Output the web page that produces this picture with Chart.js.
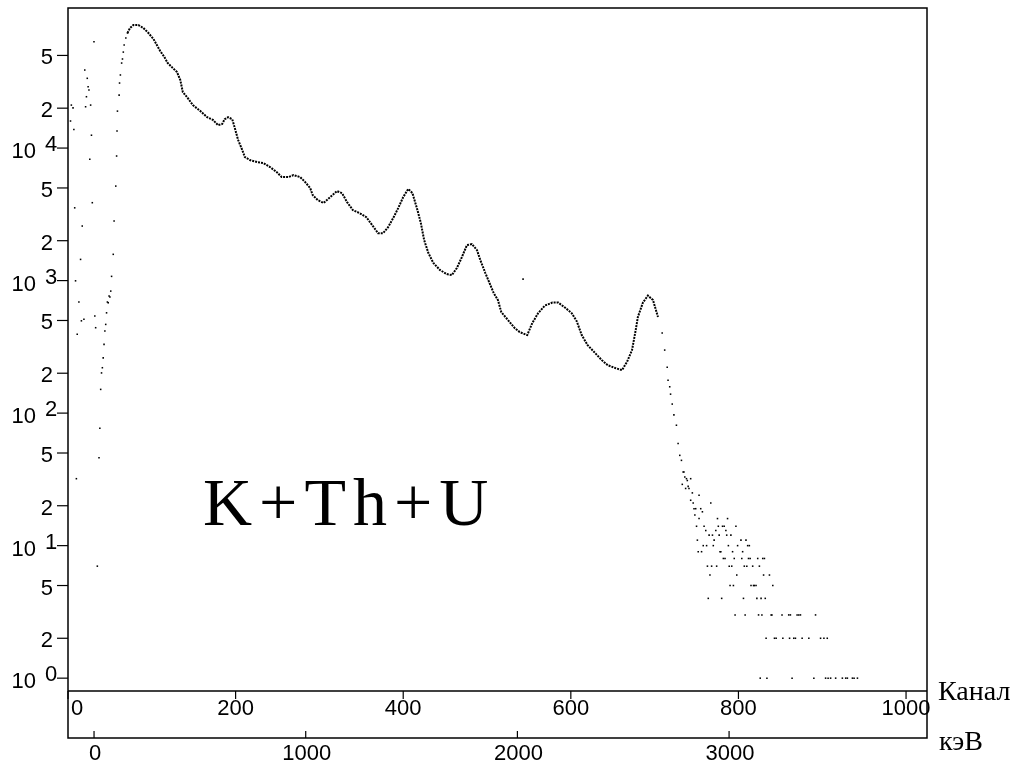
<!DOCTYPE html>
<html>
<head>
<meta charset="utf-8">
<script src="https://cdn.jsdelivr.net/npm/chart.js@4"></script>
<style>
  body { margin: 0; background: #fff; }
  #wrap { width: 1023px; height: 762px; }
</style>
</head>
<body>
<div id="wrap"><canvas id="spectrum" width="1023" height="762"></canvas></div>
<script>
// low channels: noise + rising edge (dots)
const lowCh  = [3, 4, 6, 7, 8, 9, 10, 11, 13, 15, 16, 17, 19, 20, 21, 22, 23, 24, 25, 26, 27, 28, 29, 31, 32, 33,
                35, 37, 38, 39, 40, 41, 42, 43, 44, 45, 46, 47, 48, 49, 50, 51, 52, 54, 55, 57, 58, 58.5, 59, 61, 61.5, 62.5, 64, 65, 66, 67, 69, 71];
const lowCnt = [16000, 21100, 20100, 13800, 3540, 996, 32, 393, 689, 1445, 497, 2580, 510, 38800, 20500, 24400, 33600, 29000, 27400, 8220, 21100, 12500, 3870, 63400, 540, 441,
                7, 46, 77, 151, 201, 220, 261, 330, 416, 467, 571, 689, 680, 764, 753, 833, 1076, 1578, 2813, 5165, 8710, 13430, 19000, 25100, 30950, 35600, 43800, 47000, 53000, 59900, 67600, 73800];

// main spectrum curve
const curveCh  = [71, 74, 78, 84, 90, 96, 102, 106, 110, 115, 119, 125, 130, 134, 137, 143, 149, 158, 166, 173, 179, 184, 187, 191, 196, 199,
                  203, 208, 211, 217, 226, 233, 241, 249, 255, 263, 269, 277, 283, 289, 292, 298, 305, 313, 321, 327, 333, 340, 348, 356, 363, 370, 376,
                  382, 388, 394, 400, 406, 411, 417, 421, 425, 430, 436, 444, 452, 458, 464, 470, 476, 482, 488, 492, 498, 504, 508, 513, 517, 525, 533,
                  539, 548, 554, 561, 569, 578, 585, 593, 601, 607, 613, 620, 629, 637, 644, 653, 661, 667, 673, 677, 680, 686, 692, 698, 704];
const curveCnt = [73800, 80500, 84800, 84800, 80500, 73800, 66500, 59900, 54000, 48600, 43800, 40200, 37500, 32600, 26500, 23800, 21100, 19000, 17100, 16300, 14900, 15200, 16500, 17100, 16500, 14200,
                  11500, 9660, 8560, 8120, 7840, 7710, 7190, 6590, 6040, 6040, 6250, 6040, 5540, 4990, 4420, 4050, 3850, 4270, 4735, 4575, 3910, 3400, 3230, 3010, 2620, 2280, 2280,
                  2530, 2960, 3520, 4270, 4910, 4575, 3400, 2720, 2020, 1615, 1357, 1200, 1120, 1100, 1243, 1503, 1852, 1885, 1697, 1428, 1140, 925, 805, 713, 578, 504, 438,
                  409, 388, 478, 568, 648, 682, 682, 626, 568, 494, 388, 326, 284, 251, 230, 219, 211, 243, 299, 409, 531, 682, 771, 713, 531];

// high channels: falling edge and sparse counts (dots)
const tailCh  = [543, 709, 712, 715, 716, 718, 719, 721, 723, 726, 728, 730, 732, 733, 734, 735, 736, 737, 738, 739, 740, 741, 743,
                 745, 753, 743, 746, 767, 747, 749, 755, 757, 748, 753, 775, 787,
                 750, 759, 776, 781, 783, 797, 761, 773, 785, 765, 769, 777, 786, 791, 751, 771, 803, 809,
                 758, 762, 770, 788, 799, 811, 813, 752, 756, 778, 779, 793, 805,
                 782, 784, 795, 804, 812, 814, 823, 829, 831, 763, 768, 774, 789, 792, 807, 810, 817, 825,
                 766, 798, 830, 837, 790, 794, 815, 818, 819, 821, 841, 764, 780, 806, 822, 827, 832,
                 796, 808, 824, 828, 839, 840, 852, 860, 862, 870, 872, 874, 892,
                 833, 843, 845, 853, 861, 866, 868, 876, 884, 898, 902, 906,
                 826, 834, 864, 890, 904, 907, 910, 916, 924, 928, 930, 936, 938, 942];
const tailCnt = [1026, 402, 299, 222, 177, 158, 139, 117, 97, 81, 59, 48, 44, 29, 36, 36, 33, 27, 32, 31, 28, 27, 32,
                 25, 24, 22, 21, 21, 19, 19, 19, 18, 17, 16, 16, 16,
                 14, 14, 14, 14, 14, 14, 13, 13, 13, 12, 12, 12, 12, 12, 11, 11, 11, 11,
                 10, 10, 10, 10, 10, 10, 10, 9, 9, 9, 9, 9, 9,
                 8, 8, 8, 8, 8, 8, 8, 8, 8, 7, 7, 7, 7, 7, 7, 7, 7, 7,
                 6, 6, 6, 6, 5, 5, 5, 5, 5, 5, 5, 4, 4, 4, 4, 4, 4,
                 3, 3, 3, 3, 3, 3, 3, 3, 3, 3, 3, 3, 3,
                 2, 2, 2, 2, 2, 2, 2, 2, 2, 2, 2, 2,
                 1, 1, 1, 1, 1, 1, 1, 1, 1, 1, 1, 1, 1, 1];

const yTicks = [1, 2, 5, 10, 20, 50, 100, 200, 500, 1000, 2000, 5000, 10000, 20000, 50000];
const yTickText = ['10^0', '2', '5', '10^1', '2', '5', '10^2', '2', '5', '10^3', '2', '5', '10^4', '2', '5'];
const chTicks = [0, 200, 400, 600, 800, 1000];
const kevTicks = [0, 1000, 2000, 3000];

const toXY = (xs, ys) => xs.map((v, i) => ({ x: v, y: ys[i] }));

const decor = {
  id: 'decor',
  afterDraw(chart) {
    const ctx = chart.ctx;
    const a = chart.chartArea;
    const ys = chart.scales.y, xs = chart.scales.x, ks = chart.scales.kev;
    const low = ks.top;
    ctx.save();
    ctx.strokeStyle = '#000';
    ctx.fillStyle = '#000';
    ctx.lineWidth = 1.5;
    ctx.strokeRect(a.left, a.top, a.right - a.left, low - a.top);
    ctx.beginPath();
    ctx.moveTo(a.left, a.bottom);
    ctx.lineTo(a.right, a.bottom);
    ctx.stroke();

    ctx.font = '22px "Liberation Sans"';
    ctx.lineWidth = 1.2;
    yTicks.forEach((v, i) => {
      const py = ys.getPixelForValue(v);
      ctx.beginPath();
      ctx.moveTo(a.left - 11, py);
      ctx.lineTo(a.left, py);
      ctx.stroke();
      const t = yTickText[i];
      if (t.indexOf('^') > 0) {
        const [b, e] = t.split('^');
        ctx.textAlign = 'right';
        ctx.fillText(b, 36, py + 10);
        ctx.textAlign = 'left';
        ctx.fillText(e, 45, py + 3);
      } else {
        ctx.textAlign = 'right';
        ctx.fillText(t, 53, py + 9);
      }
    });

    chTicks.forEach(v => {
      const px = xs.getPixelForValue(v);
      ctx.beginPath();
      ctx.moveTo(px, a.bottom);
      ctx.lineTo(px, a.bottom + 8);
      ctx.stroke();
      const s = String(v);
      const w = ctx.measureText(s).width;
      ctx.textAlign = 'left';
      const lx = px - w / 2 < a.left ? a.left + 3 : px - w / 2;
      ctx.fillText(s, lx, a.bottom + 24);
    });

    kevTicks.forEach(v => {
      const px = ks.getPixelForValue(v);
      ctx.beginPath();
      ctx.moveTo(px, low - 7);
      ctx.lineTo(px, low);
      ctx.stroke();
      ctx.textAlign = 'center';
      ctx.fillText(String(v), px + 1, low + 22);
    });

    ctx.textAlign = 'left';
    ctx.font = '28px "Liberation Serif"';
    ctx.fillText('Канал', a.right + 11, a.bottom + 9);
    ctx.fillText('кэВ', a.right + 12, low + 12);

    ctx.font = '68px "Liberation Serif"';
    ctx.letterSpacing = '7px';
    ctx.fillText('K+Th+U', 203, 525);
    ctx.restore();
  }
};

new Chart(document.getElementById('spectrum'), {
  type: 'scatter',
  data: {
    datasets: [
      {
        data: toXY(curveCh, curveCnt),
        showLine: true,
        borderColor: '#000',
        borderWidth: 2,
        borderDash: [2, 1],
        pointRadius: 0,
        tension: 0
      },
      {
        data: toXY(lowCh, lowCnt),
        pointStyle: 'rect',
        pointRadius: 1.1,
        backgroundColor: '#000',
        borderWidth: 0
      },
      {
        data: toXY(tailCh, tailCnt),
        pointStyle: 'rect',
        pointRadius: 1.1,
        backgroundColor: '#000',
        borderWidth: 0
      }
    ]
  },
  options: {
    responsive: false,
    animation: false,
    layout: { padding: { top: 8, right: 96, left: 0, bottom: 0 } },
    plugins: { legend: { display: false }, tooltip: { enabled: false } },
    scales: {
      x: {
        type: 'linear', position: 'bottom', min: 0, max: 1025,
        grid: { display: false }, border: { display: false }, ticks: { display: false },
        afterFit: s => { s.height = 47; }
      },
      kev: {
        type: 'linear', position: 'bottom', min: -123, max: 3935,
        grid: { display: false }, border: { display: false }, ticks: { display: false },
        afterFit: s => { s.height = 24; }
      },
      y: {
        type: 'logarithmic', min: 0.8, max: 114000,
        grid: { display: false }, border: { display: false }, ticks: { display: false },
        afterFit: s => { s.width = 68; }
      }
    }
  },
  plugins: [decor]
});
</script>
</body>
</html>
